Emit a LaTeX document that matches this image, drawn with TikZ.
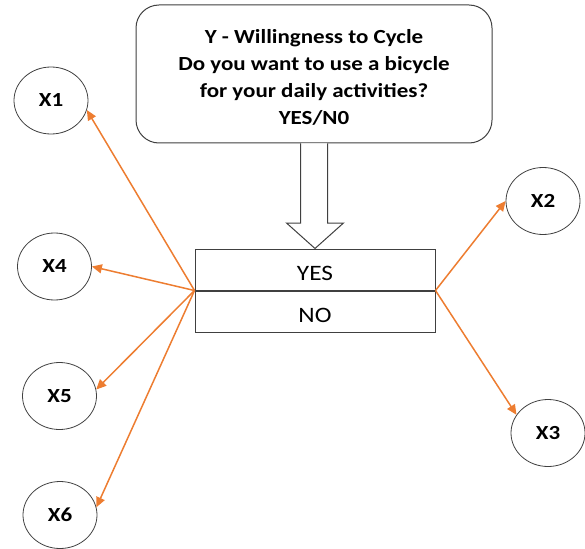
\documentclass[tikz,border=0pt]{standalone}
\usepackage{fontspec}
\setmainfont{Carlito}[FakeStretch=1.15]
\usetikzlibrary{positioning,shapes.geometric,arrows.meta,calc}
\definecolor{arrow-orange}{HTML}{ED7D31}
\definecolor{line-gray}{HTML}{404040}
\tikzset{
    question-box/.style = {draw=line-gray, fill=white, line width=1pt, rectangle, rounded corners=23pt, minimum width=356pt, minimum height=138pt, align=center, font=\fontsize{20}{27}\selectfont\bfseries},
    answer-box/.style = {draw=line-gray, line width=1pt, rectangle, minimum width=240pt, minimum height=41pt, text height=21pt, text depth=0pt, font=\fontsize{22}{24}\selectfont},
    factor/.style = {draw=line-gray, ellipse, line width=0.8pt, minimum width=74pt, minimum height=67pt, font=\fontsize{20}{22}\selectfont\bfseries},
    block-arrow/.style = {draw=line-gray, fill=white, line width=1pt, line join=miter},
    link/.style = {draw=arrow-orange, line width=1.5pt, -{Triangle[length=10pt,width=9pt]}},
}

\begin{document}
\begin{tikzpicture}[x=1pt,y=-1pt]
\useasboundingbox (0,0) rectangle (585,548);
\node [question-box] (question) at (314,74) {\rule{0pt}{21pt}Y - Willingness to Cycle\\Do you want to use a bicycle\\for your daily activities?\\YES/N0};
\node [answer-box] (yes) at (315,269.5) {YES};
\node [answer-box, below=0pt of yes] (no) {NO};
% hollow arrow from the question down to the answers
\draw [block-arrow] ($(question.south)+(-13.5,0)$) |- ($(yes.north)+(-28.5,-25.5)$) -- (yes.north)
    -- ($(yes.north)+(28.5,-25.5)$) -| ($(question.south)+(13.5,0)$);
\node [factor] (x1) at (51,100.5) {X1};
\node [factor] (x4) at (54.5,266.5) {X4};
\node [factor] (x5) at (59.5,396) {X5};
\node [factor] (x6) at (60,515) {X6};
\node [factor] (x2) at (543,201) {X2};
\node [factor] (x3) at (548,433) {X3};
\draw [link] (yes.south west) -- (x1.-15);
\draw [link] (yes.south west) -- (x4.east);
\draw [link] (yes.south west) -- (x5.10);
\draw [link] (yes.south west) -- (x6.12);
\draw [link] (yes.south east) -- (x2.west);
\draw [link] (yes.south east) -- (x3.150);
\end{tikzpicture}
\end{document}
